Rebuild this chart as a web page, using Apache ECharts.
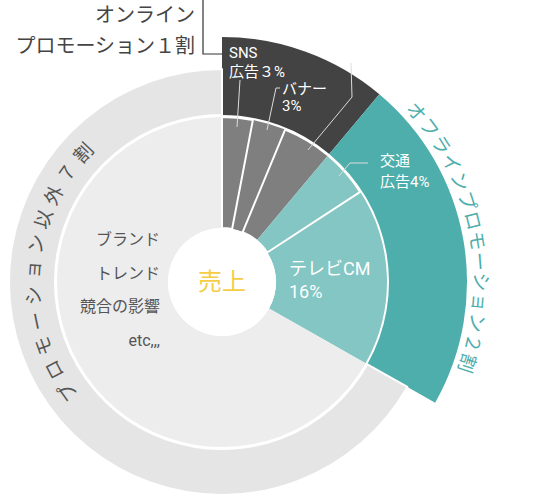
<!DOCTYPE html>
<html>
<head>
<meta charset="utf-8">
<script src="https://cdn.jsdelivr.net/npm/echarts@6/dist/echarts.min.js"></script>
<style>
  html, body { margin: 0; padding: 0; background: #fff; }
  #chart { width: 550px; height: 495px; }
</style>
</head>
<body>
<div id="chart"></div>
<script>
// inner ring: shares of sales
const innerNames = ['SNS広告', 'バナー', '検索広告', '交通広告', 'テレビCM', 'その他'];
const innerValues = [3.0, 3.25, 4.85, 4.7, 17.4, 66.8];
const innerLabels = ['SNS\n広告３%', 'バナー\n3%', '検索広告\n4%', '交通\n広告4%', 'テレビCM\n16%', 'ブランド\nトレンド\n競合の影響\netc,,,'];

// outer ring: groups
const outerNames = ['オンラインプロモーション', 'オフラインプロモーション', 'プロモーション以外'];
const outerValues = [11.1, 22.1, 66.8];
const outerLabels = ['オンライン\nプロモーション１割', 'オフラインプロモーション２割', 'プロモーション以外７割'];

const centerLabel = '売上';

const CX = 222;
const CY = 282;
const FONT = 'Roboto, "Noto Sans CJK JP", sans-serif';
const NONE = 'rgba(0,0,0,0)';

const innerColors = ['#7f7f7f', '#7f7f7f', '#7f7f7f', '#83c6c3', '#83c6c3', '#ededed'];
const outerColors = ['#434343', '#4daeac'];

// label boxes for the inner ring
const innerLabelPos = [
  { x: 229, y: 62, align: 'left', size: 15, lh: 19, color: '#fff', line: [[237, 127], [240, 80], [240, 80]] },
  { x: 282, y: 97, align: 'left', size: 15, lh: 17, color: '#fff', line: [[267, 130], [276, 88], [280, 88]] },
  { x: 397, y: 61, align: 'right', size: 15, lh: 21, color: '#fff', line: [[308, 150], [352, 97], [351, 63]] },
  { x: 380, y: 171, align: 'left', size: 15, lh: 21, color: '#fff', line: [[339, 176], [350, 163], [368, 163]] },
  { x: 289, y: 280, align: 'left', size: 18, lh: 23, color: '#fff' },
  { x: 160, y: 290, align: 'right', size: 16, lh: 33.5, color: '#555' }
];

function arcText(text, r, a0, a1, color, size) {
  const chars = Array.from(text);
  const step = (a1 - a0) / (chars.length - 1);
  return chars.map(function (ch, i) {
    const a = (a0 + step * i) * Math.PI / 180;
    return {
      type: 'text',
      x: CX + r * Math.sin(a),
      y: CY - r * Math.cos(a),
      rotation: -a,
      z: 100,
      silent: true,
      style: {
        text: ch,
        fill: color,
        fontSize: size,
        fontFamily: FONT,
        align: 'center',
        verticalAlign: 'middle',
        textAlign: 'center',
        textVerticalAlign: 'middle'
      }
    };
  });
}

const chart = echarts.init(document.getElementById('chart'), null, { renderer: 'svg' });

// thin white separators between some inner slices
const sepValues = [innerValues[0], innerValues[1], innerValues[2] + innerValues[3], innerValues[4] + innerValues[5]];

const option = {
  animation: false,
  series: [
    {
      type: 'pie',
      z: 2,
      center: [CX, CY],
      radius: [167, 245],
      startAngle: 90,
      silent: true,
      avoidLabelOverlap: false,
      data: outerValues.map(function (v, i) {
        return {
          value: v,
          name: outerNames[i],
          itemStyle: { color: outerColors[i] || NONE, borderWidth: 0 },
          label: { show: i === 0 },
          labelLine: { show: i === 0 }
        };
      }),
      label: {
        formatter: function (p) { return outerLabels[p.dataIndex]; },
        fontFamily: FONT,
        fontSize: 20,
        lineHeight: 31,
        color: '#444',
        align: 'right'
      },
      labelLine: { lineStyle: { color: '#333', width: 1.2 }, length: 5, length2: 5 },
      labelLayout: function () {
        return {
          x: 195,
          y: 30,
          align: 'right',
          verticalAlign: 'middle',
          labelLinePoints: [[223, 54], [203, 54], [203, 0]]
        };
      }
    },
    {
      type: 'pie',
      z: 2,
      center: [CX, CY],
      radius: [167, 213],
      startAngle: 90,
      silent: true,
      data: outerValues.map(function (v, i) {
        return {
          value: v,
          name: outerNames[i] + ' ',
          itemStyle: i === 2
            ? { color: '#e5e5e5', borderColor: '#fff', borderWidth: 2 }
            : { color: NONE, borderWidth: 0 }
        };
      }),
      label: { show: false },
      labelLine: { show: false }
    },
    {
      type: 'pie',
      z: 3,
      center: [CX, CY],
      radius: [54, 165],
      startAngle: 90,
      silent: true,
      data: innerValues.map(function (v, i) {
        return { value: v, name: innerNames[i], itemStyle: { color: innerColors[i], borderWidth: 0 } };
      }),
      label: { show: false },
      labelLine: { show: false }
    },
    {
      type: 'pie',
      z: 4,
      center: [CX, CY],
      radius: [54, 165],
      startAngle: 90,
      silent: true,
      data: sepValues.map(function (v, i) {
        return {
          value: v,
          itemStyle: { color: NONE, borderColor: '#fff', borderWidth: i % 2 === 0 ? 2 : 0 }
        };
      }),
      label: { show: false },
      labelLine: { show: false }
    },
    {
      // labels of the inner ring, drawn above every sector
      type: 'pie',
      z: 5,
      center: [CX, CY],
      radius: [54, 165],
      startAngle: 90,
      silent: true,
      avoidLabelOverlap: false,
      data: innerValues.map(function (v, i) {
        const p = innerLabelPos[i];
        return {
          value: v,
          name: innerNames[i] + ' ',
          itemStyle: { color: NONE, borderWidth: 0 },
          label: {
            position: p.line ? 'outside' : 'inside',
            fontSize: p.size,
            lineHeight: p.lh,
            color: p.color,
            align: p.align
          },
          labelLine: { show: !!p.line }
        };
      }),
      label: {
        show: true,
        formatter: function (p) { return innerLabels[p.dataIndex]; },
        fontFamily: FONT
      },
      labelLine: { lineStyle: { color: '#dcdcdc', width: 1 }, length: 5, length2: 5 },
      labelLayout: function (params) {
        const p = innerLabelPos[params.dataIndex];
        const out = { x: p.x, y: p.y, align: p.align, verticalAlign: 'middle' };
        if (p.line) out.labelLinePoints = p.line;
        return out;
      }
    },
    {
      type: 'pie',
      z: 4,
      center: [CX, CY],
      radius: [0, 54],
      silent: true,
      data: [{ value: 1, name: centerLabel, itemStyle: { color: '#fff', borderWidth: 0 } }],
      label: {
        show: true,
        position: 'center',
        formatter: centerLabel,
        fontFamily: FONT,
        fontSize: 24,
        color: '#f5cd45'
      },
      labelLine: { show: false }
    }
  ],
  graphic: arcText(outerLabels[1], 258, 48.8, 108.3, '#4daeac', 19)
    .concat(arcText(outerLabels[2], 189, 234.5, 313, '#555', 19))
};

chart.setOption(option);
</script>
</body>
</html>
